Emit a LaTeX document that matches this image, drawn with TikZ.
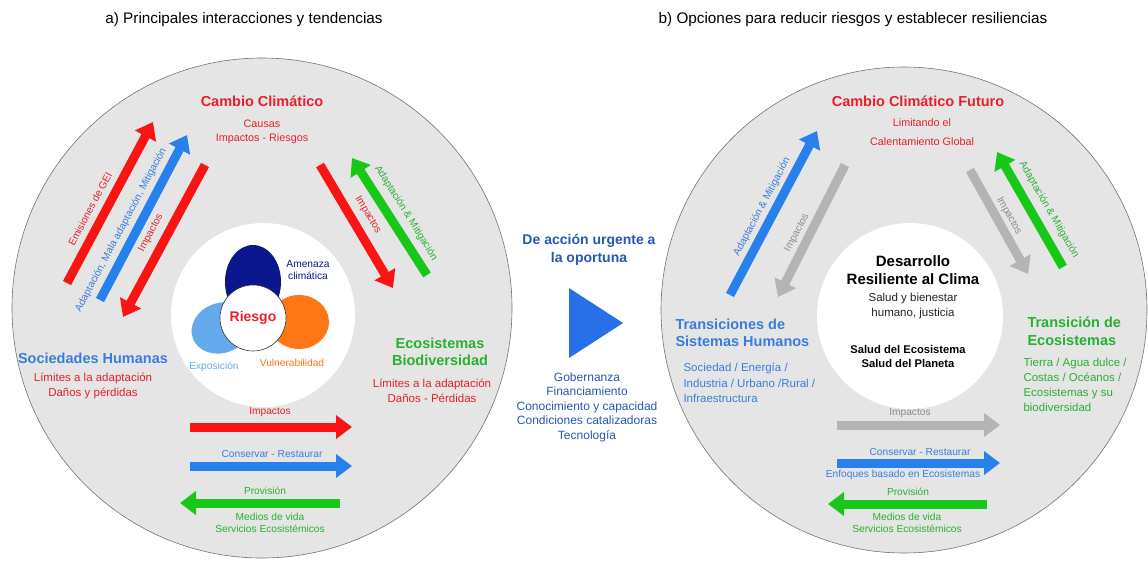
\documentclass[tikz,border=0pt]{standalone}
\usepackage{fontspec}
\setmainfont{Liberation Sans}
\usetikzlibrary{arrows.meta}

\definecolor{disc}{RGB}{229,229,229}
\definecolor{redA}{RGB}{250,20,20}
\definecolor{redT}{RGB}{232,32,44}
\definecolor{blueA}{RGB}{40,128,236}
\definecolor{blueT}{RGB}{58,124,222}
\definecolor{greenA}{RGB}{24,200,24}
\definecolor{greenT}{RGB}{40,176,50}
\definecolor{grayA}{RGB}{180,180,180}
\definecolor{grayT}{RGB}{140,140,140}
\definecolor{navyV}{RGB}{10,22,140}
\definecolor{skyV}{RGB}{102,170,238}
\definecolor{orangeV}{RGB}{255,118,20}
\definecolor{navyT}{RGB}{40,86,180}
\definecolor{playB}{RGB}{40,112,232}

\begin{document}
\begin{tikzpicture}[x=1pt,y=-1pt,
    fat/.style={line width=9pt,-{Triangle[length=16pt,width=23pt]}},
    hd/.style={font=\fontsize{14.5}{17.5}\selectfont\bfseries,align=center},
    tx/.style={font=\fontsize{11.5}{14.5}\selectfont,align=center},
    sm/.style={font=\fontsize{10.2}{12}\selectfont,inner sep=1pt,align=center}]
  \useasboundingbox (0,0) rectangle (1148,560);
  % titles
  \node[font=\fontsize{15.3}{18}\selectfont] (tA) at (244,20) {a) Principales interacciones y tendencias};
  \node[font=\fontsize{15.3}{18}\selectfont] (tB) at (853,20) {b) Opciones para reducir riesgos y establecer resiliencias};
  % grey discs and white centres
  \draw[fill=disc,draw=black!55,line width=0.6pt] (262,308) circle (250);
  \draw[fill=disc,draw=black!55,line width=0.6pt] (904,310) circle (243);
  \fill[white] (263,315) circle (92);
  \fill[white] (910,316) circle (93);

  % ---- a) ----
  \node[hd,text=redT] (cc) at (262,101) {Cambio Climático};
  \node[tx,text=redT,font=\fontsize{10.8}{14}\selectfont] (causas) at (262,132) {Causas\\Impactos - Riesgos};
  \node[hd,text=blueT] (soc) at (93,358) {Sociedades Humanas};
  \node[tx,text=redT] (socL) at (93,386) {Límites a la adaptación\\Daños y pérdidas};
  \node[hd,text=greenT] (eco) at (440,352) {Ecosistemas\\Biodiversidad};
  \node[tx,text=redT] (ecoL) at (432,391) {Límites a la adaptación\\Daños - Pérdidas};

  % risk
  \fill[navyV] (253,282) ellipse [x radius=28,y radius=37];
  \fill[skyV,rotate around={20:(221,328)}] (221,328) ellipse [x radius=30,y radius=25];
  \fill[orangeV] (299,322) ellipse [x radius=30,y radius=27];
  \node[circle,draw=black!80,fill=white,line width=0.6pt,minimum size=66pt,inner sep=0pt,
    font=\fontsize{14}{16}\selectfont\bfseries,text=redT] (risk) at (253,318) {Riesgo};
  \node[sm,text=navyV] (amen) at (308,270) {Amenaza\\climática};
  \node[sm,text=skyV] (expo) at (214,367) {Exposición};
  \node[sm,text=orangeV] (vuln) at (292,363) {Vulnerabilidad};

  % diagonal arrows
  \coordinate (e1t) at (67,283);  \coordinate (e1h) at (153,122);
  \coordinate (e2t) at (100,300); \coordinate (e2h) at (187,135);
  \coordinate (e3t) at (205,165); \coordinate (e3h) at (123,317);
  \coordinate (e4t) at (320,165); \coordinate (e4h) at (393,288);
  \coordinate (e5t) at (427,275); \coordinate (e5h) at (352,158);
  \draw[fat,redA] (e1t) -- (e1h);
  \draw[fat,blueA] (e2t) -- (e2h);
  \draw[fat,redA] (e3t) -- (e3h);
  \draw[fat,redA] (e4t) -- (e4h);
  \draw[fat,greenA] (e5t) -- (e5h);
  \node[sm,rotate=62,text=redT] (emi) at (90,209) {Emisiones de GEI};
  \node[sm,rotate=62,text=blueT] (ada) at (121,230) {Adaptación, Mala adaptación, Mitigación};
  \node[sm,rotate=62,text=redT] (imp1) at (151,233) {Impactos};
  \node[sm,rotate=-59,text=redT] (imp2) at (368,215) {Impactos};
  \node[sm,rotate=-58,text=greenT] (am1) at (406,213) {Adaptación \& Mitigación};

  % horizontal arrows
  \coordinate (b1t) at (190,427); \coordinate (b1h) at (352,427);
  \coordinate (b2t) at (190,466); \coordinate (b2h) at (352,466);
  \coordinate (b3t) at (340,503); \coordinate (b3h) at (180,503);
  \draw[fat,redA] (b1t) -- (b1h);
  \draw[fat,blueA] (b2t) -- (b2h);
  \draw[fat,greenA] (b3t) -- (b3h);
  \node[sm,text=redT] (imp3) at (270,412) {Impactos};
  \node[sm,text=blueT] (cons1) at (272,454) {Conservar - Restaurar};
  \node[sm,text=greenT] (prov1) at (265,491) {Provisión};
  \node[sm,text=greenT] (med1) at (270,523) {Medios de vida\\Servicios Ecosistémicos};

  % ---- middle ----
  \node[font=\fontsize{14}{18}\selectfont\bfseries,text=navyT,align=center] (urg) at (589,250)
    {De acción urgente a\\la oportuna};
  \fill[playB] (569,288) -- (569,358) -- (623,323) -- cycle;
  \node[font=\fontsize{12}{14.5}\selectfont,text=navyT,align=center] (cond) at (587,407)
    {Gobernanza\\Financiamiento\\Conocimiento y capacidad\\Condiciones catalizadoras\\Tecnología};

  % ---- b) ----
  \node[hd,text=redT] (ccf) at (918,101) {Cambio Climático Futuro};
  \node[tx,text=redT,font=\fontsize{10.8}{19}\selectfont] (lim) at (922,132) {Limitando el\\Calentamiento Global};
  \node[hd,text=black,font=\fontsize{15}{18}\selectfont\bfseries] (drc) at (913,270) {Desarrollo\\Resiliente al Clima};
  \node[tx,text=black!85,font=\fontsize{11.5}{15}\selectfont] (sal) at (913,306) {Salud y bienestar\\humano, justicia};
  \node[tx,text=black,font=\fontsize{11.2}{14}\selectfont\bfseries] (sEco) at (908,356) {Salud del Ecosistema\\Salud del Planeta};
  \node[hd,text=blueT,align=left,anchor=west] (tsh) at (672,333) {Transiciones de\\Sistemas Humanos};
  \node[tx,text=blueT,align=left,anchor=west,font=\fontsize{11.5}{15.5}\selectfont] (sect) at (680,383)
    {Sociedad / Energía /\\Industria / Urbano /Rural /\\Infraestructura};
  \node[hd,text=greenT,align=left,anchor=west] (te) at (1024,331) {Transición de\\Ecosistemas};
  \node[tx,text=greenT,align=left,anchor=west,font=\fontsize{11.5}{15}\selectfont] (tier) at (1020,385)
    {Tierra / Agua dulce /\\Costas / Océanos /\\Ecosistemas y su\\biodiversidad};

  \coordinate (f1t) at (730,295); \coordinate (f1h) at (817,131);
  \coordinate (f2t) at (845,165); \coordinate (f2h) at (778,297);
  \coordinate (f3t) at (970,170); \coordinate (f3h) at (1028,274);
  \coordinate (f4t) at (1063,267); \coordinate (f4h) at (997,152);
  \draw[fat,blueA] (f1t) -- (f1h);
  \draw[fat,grayA] (f2t) -- (f2h);
  \draw[fat,grayA] (f3t) -- (f3h);
  \draw[fat,greenA] (f4t) -- (f4h);
  \node[sm,rotate=62,text=blueT] (am2) at (762,207) {Adaptación \& Mitigación};
  \node[sm,rotate=62,text=grayT] (imp4) at (797,233) {Impactos};
  \node[sm,rotate=-61,text=grayT] (imp5) at (1009,216) {Impactos};
  \node[sm,rotate=-60,text=greenT] (am3) at (1049,210) {Adaptación \& Mitigación};

  \coordinate (g1t) at (837,425); \coordinate (g1h) at (1000,425);
  \coordinate (g2t) at (837,463); \coordinate (g2h) at (1000,463);
  \coordinate (g3t) at (987,504); \coordinate (g3h) at (828,504);
  \draw[fat,grayA] (g1t) -- (g1h);
  \draw[fat,blueA] (g2t) -- (g2h);
  \draw[fat,greenA] (g3t) -- (g3h);
  \node[sm,text=grayT] (imp6) at (910,413) {Impactos};
  \node[sm,text=blueT] (cons2) at (920,452) {Conservar - Restaurar};
  \node[sm,text=blueT] (enf) at (903,475) {Enfoques basado en Ecosistemas};
  \node[sm,text=greenT] (prov2) at (908,492) {Provisión};
  \node[sm,text=greenT] (med2) at (907,523) {Medios de vida\\Servicios Ecosistémicos};
\end{tikzpicture}
\end{document}
